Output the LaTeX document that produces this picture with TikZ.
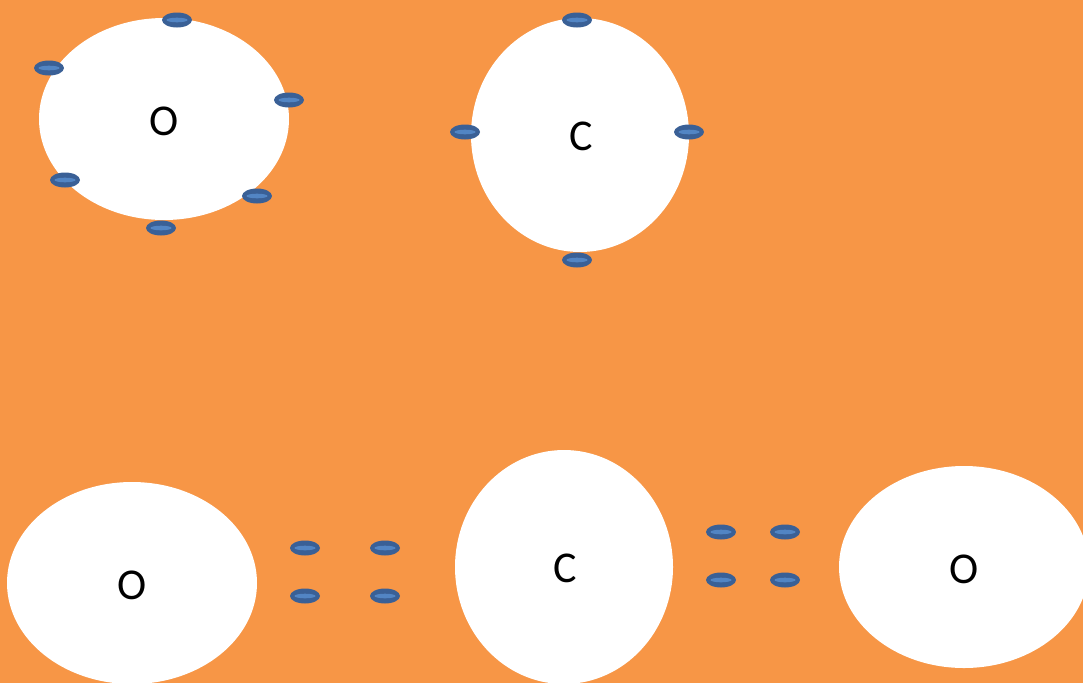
\documentclass[tikz,border=0pt]{standalone}
\usepackage{fontspec}
\setmainfont{Carlito}
\usetikzlibrary{shapes.geometric}
\definecolor{bgorange}{HTML}{F79646}
\definecolor{eouter}{HTML}{3A6096}
\definecolor{einner}{HTML}{5285C4}
\tikzset{
  atom/.style={ellipse, fill=white, inner sep=0pt},
  oatom/.style={atom, minimum width=250pt, minimum height=202pt},
  catom/.style={atom, minimum width=218pt, minimum height=234pt},
  lbl/.style={inner sep=0pt, font=\fontsize{44}{50}\selectfont},
  electron/.style={ellipse, fill=eouter, minimum width=30pt, minimum height=15pt, inner sep=0pt,
    path picture={\fill[einner] (path picture bounding box.center) ellipse [x radius=10.5pt, y radius=2.3pt];}}
}
\begin{document}
\begin{tikzpicture}[x=1pt,y=-1pt]
\fill[bgorange] (0,0) rectangle (1083,683);
\useasboundingbox (0,0) rectangle (1083,683);
% top row
\node[oatom] (O1) at (164,119) {};
\node[lbl] (tO1) at (164.5,121) {O};
\node[catom] (C1) at (580,135) {};
\node[lbl] (tC1) at (581,136) {C};
\node[electron] (a1) at (177,20) {};
\node[electron] (a2) at (49,68) {};
\node[electron] (a3) at (289,100) {};
\node[electron] (a4) at (65,180) {};
\node[electron] (a5) at (257,196) {};
\node[electron] (a6) at (161,228) {};
\node[electron] (b1) at (577,20) {};
\node[electron] (b2) at (465,132) {};
\node[electron] (b3) at (689,132) {};
\node[electron] (b4) at (577,260) {};
% bottom row
\node[oatom] (O2) at (132,583) {};
\node[lbl] (tO2) at (132.5,585) {O};
\node[catom] (C2) at (564,567) {};
\node[lbl] (tC2) at (565,568) {C};
\node[oatom] (O3) at (964,567) {};
\node[lbl] (tO3) at (964.5,569) {O};
\node[electron] (c1) at (305,548) {};
\node[electron] (c2) at (385,548) {};
\node[electron] (c3) at (305,596) {};
\node[electron] (c4) at (385,596) {};
\node[electron] (d1) at (721,532) {};
\node[electron] (d2) at (785,532) {};
\node[electron] (d3) at (721,580) {};
\node[electron] (d4) at (785,580) {};
\end{tikzpicture}
\end{document}
